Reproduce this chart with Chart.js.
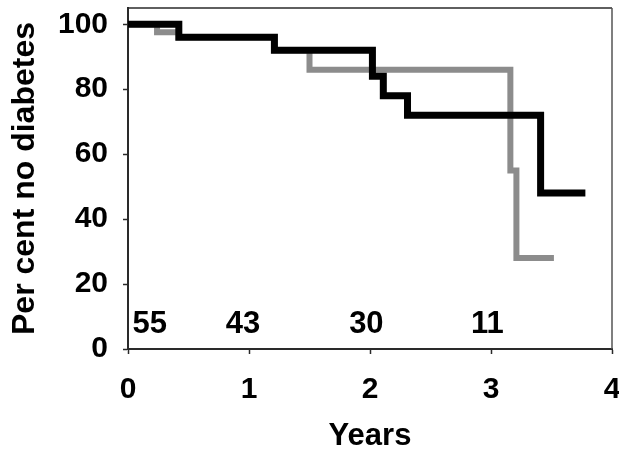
<!DOCTYPE html>
<html>
<head>
<meta charset="utf-8">
<script src="https://cdn.jsdelivr.net/npm/chart.js@4.4.1/dist/chart.umd.min.js"></script>
<style>
  html, body { margin: 0; padding: 0; background: #fff; }
  #wrap { width: 619px; height: 452px; position: relative; }
</style>
</head>
<body>
<div id="wrap"><canvas id="km"></canvas></div>
<script>
// Kaplan-Meier curves (years, per cent without diabetes)
const blackTimes = [0, 0.42, 1.21, 2.02, 2.11, 2.31, 3.41, 3.78];
const blackValues = [100, 96, 92, 84, 78, 72, 48, 48];

const grayTimes = [0, 0.24, 0.42, 1.21, 1.50, 3.16, 3.21, 3.52];
const grayValues = [100, 97.5, 96, 92, 86, 55, 28, 28];

// numbers at risk printed inside the plot
const riskTimes = [0.18, 0.95, 1.97, 2.97];
const riskCounts = ['55', '43', '30', '11'];
const riskLevel = 7.5;

const xTicks = [0, 1, 2, 3, 4];
const yTicks = [0, 20, 40, 60, 80, 100];

const FONT = "'Liberation Sans', Arial, Helvetica, sans-serif";
const AXIS_COLOR = '#2a2a2a';

function toPoints(xs, ys) {
  return xs.map((x, i) => ({ x: x, y: ys[i] }));
}

// top/right frame plus the at-risk numbers
const framePlugin = {
  id: 'frame',
  beforeDatasetsDraw(chart) {
    const { ctx, chartArea } = chart;
    ctx.save();
    ctx.lineWidth = 1.5;
    ctx.strokeStyle = AXIS_COLOR;
    ctx.beginPath();
    ctx.moveTo(chartArea.left, chartArea.top);
    ctx.lineTo(chartArea.right, chartArea.top);
    ctx.stroke();
    ctx.strokeStyle = '#555';
    ctx.beginPath();
    ctx.moveTo(chartArea.right, chartArea.top);
    ctx.lineTo(chartArea.right, chartArea.bottom);
    ctx.stroke();
    ctx.restore();
  },
  afterDatasetsDraw(chart) {
    const { ctx, scales } = chart;
    ctx.save();
    ctx.font = 'bold 31px ' + FONT;
    ctx.fillStyle = '#000';
    ctx.textAlign = 'center';
    ctx.textBaseline = 'middle';
    riskCounts.forEach((label, i) => {
      ctx.fillText(label, scales.x.getPixelForValue(riskTimes[i]), scales.y.getPixelForValue(riskLevel));
    });
    ctx.restore();
  }
};

new Chart(document.getElementById('km'), {
  type: 'line',
  data: {
    datasets: [
      {
        label: 'black',
        data: toPoints(blackTimes, blackValues),
        borderColor: '#000',
        borderWidth: 7,
        stepped: 'before',
        pointRadius: 0,
        fill: false
      },
      {
        label: 'gray',
        data: toPoints(grayTimes, grayValues),
        borderColor: '#8c8c8c',
        borderWidth: 6,
        stepped: 'before',
        pointRadius: 0,
        fill: false
      }
    ]
  },
  options: {
    responsive: true,
    maintainAspectRatio: false,
    animation: false,
    layout: { padding: { left: 0, top: 8, right: 7, bottom: 0 } },
    plugins: {
      legend: { display: false },
      tooltip: { enabled: false }
    },
    scales: {
      x: {
        type: 'linear',
        min: 0,
        max: 4,
        afterBuildTicks: (axis) => { axis.ticks = xTicks.map(v => ({ value: v })); },
        afterFit: (axis) => { axis.height = 103; axis.paddingLeft = 0; axis.paddingRight = 0; },
        ticks: {
          color: '#000',
          padding: 18,
          font: { family: FONT, size: 30, weight: 'bold' }
        },
        grid: { drawOnChartArea: false, tickLength: 5, tickColor: AXIS_COLOR, tickWidth: 1.5 },
        border: { color: AXIS_COLOR, width: 2 },
        title: {
          display: true,
          text: 'Years',
          color: '#000',
          padding: 0,
          font: { family: FONT, size: 31, weight: 'bold', lineHeight: 1 }
        }
      },
      y: {
        min: 0,
        max: 105,
        afterBuildTicks: (axis) => { axis.ticks = yTicks.map(v => ({ value: v })); },
        afterFit: (axis) => { axis.width = 128; axis.paddingTop = 0; axis.paddingBottom = 0; },
        ticks: {
          color: '#000',
          padding: 15,
          font: { family: FONT, size: 30, weight: 'bold' }
        },
        grid: { drawOnChartArea: false, tickLength: 5, tickColor: AXIS_COLOR, tickWidth: 1.5 },
        border: { color: AXIS_COLOR, width: 2 },
        title: {
          display: true,
          text: 'Per cent no diabetes',
          color: '#000',
          padding: { top: 9, bottom: 0 },
          font: { family: FONT, size: 32, weight: 'bold', lineHeight: 1 }
        }
      }
    }
  },
  plugins: [framePlugin]
});
</script>
</body>
</html>
